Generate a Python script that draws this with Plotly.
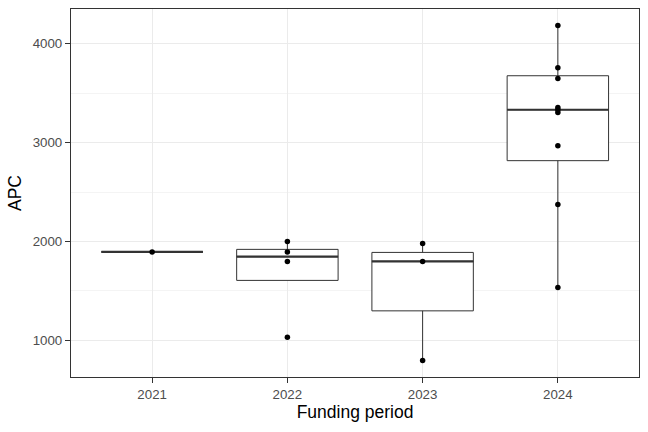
import plotly.graph_objects as go

# ---- data ----
periods = ["2021", "2022", "2023", "2024"]

# individual APC values per funding period
pts_2021 = [1895]
pts_2022 = [2000, 1895, 1799, 1033]
pts_2023 = [1980, 1799, 798]
pts_2024 = [4185, 3758, 3650, 3357, 3333, 3306, 2970, 2374, 1535]

# box statistics (as drawn)
q1_vals = [1895, 1607, 1299, 2818]
median_vals = [1895, 1847, 1799, 3333]
q3_vals = [1895, 1921, 1890, 3677]
lower_vals = [1895, 1607, 798, 1535]
upper_vals = [1895, 2000, 1980, 4185]

BOX_WIDTH = 0.75
FONT = "Liberation Sans, Arial, sans-serif"

positions = list(range(len(periods)))
all_pts = [pts_2021, pts_2022, pts_2023, pts_2024]

fig = go.Figure()

fig.add_trace(go.Box(
    x=positions,
    q1=q1_vals,
    median=median_vals,
    q3=q3_vals,
    lowerfence=lower_vals,
    upperfence=upper_vals,
    width=BOX_WIDTH,
    whiskerwidth=0,
    fillcolor="white",
    line=dict(color="#333333", width=1),
    boxpoints=False,
    hoverinfo="skip",
    showlegend=False,
))

# thicker median lines
mx, my = [], []
for p, m in zip(positions, median_vals):
    mx += [p - BOX_WIDTH / 2, p + BOX_WIDTH / 2, None]
    my += [m, m, None]
fig.add_trace(go.Scatter(
    x=mx, y=my, mode="lines",
    line=dict(color="#333333", width=2.2),
    hoverinfo="skip", showlegend=False,
))

# points
px, py = [], []
for p, vals in zip(positions, all_pts):
    px += [p] * len(vals)
    py += vals
fig.add_trace(go.Scatter(
    x=px, y=py, mode="markers",
    marker=dict(color="black", size=5.5),
    showlegend=False,
))

fig.update_layout(
    width=648, height=432,
    margin=dict(l=71, r=9, t=9, b=55),
    paper_bgcolor="white",
    plot_bgcolor="white",
    font=dict(family=FONT, color="#4D4D4D", size=13.3),
)

fig.update_xaxes(
    range=[-0.6, 3.6],
    tickmode="array", tickvals=positions, ticktext=periods,
    showgrid=True, gridcolor="#EBEBEB", gridwidth=1.3,
    zeroline=False,
    showline=True, mirror=True, linecolor="#333333", linewidth=1.1,
    ticks="outside", ticklen=5, tickwidth=1.1, tickcolor="#333333",
    tickfont=dict(family=FONT, size=13.3, color="#4D4D4D"),
    title=dict(text="Funding period", font=dict(family=FONT, size=17.5, color="black"), standoff=4),
)

fig.update_yaxes(
    range=[630, 4352],
    tickmode="array", tickvals=[1000, 2000, 3000, 4000],
    showgrid=True, gridcolor="#EBEBEB", gridwidth=1.3,
    minor=dict(tickmode="array", tickvals=[1500, 2500, 3500], showgrid=True,
               gridcolor="#F4F4F4", gridwidth=0.8, ticks=""),
    zeroline=False,
    showline=True, mirror=True, linecolor="#333333", linewidth=1.1,
    ticks="outside", ticklen=5, tickwidth=1.1, tickcolor="#333333",
    tickfont=dict(family=FONT, size=13.3, color="#4D4D4D"),
    title=dict(text="APC", font=dict(family=FONT, size=17.5, color="black"), standoff=6),
)

fig.write_html("out.html")
